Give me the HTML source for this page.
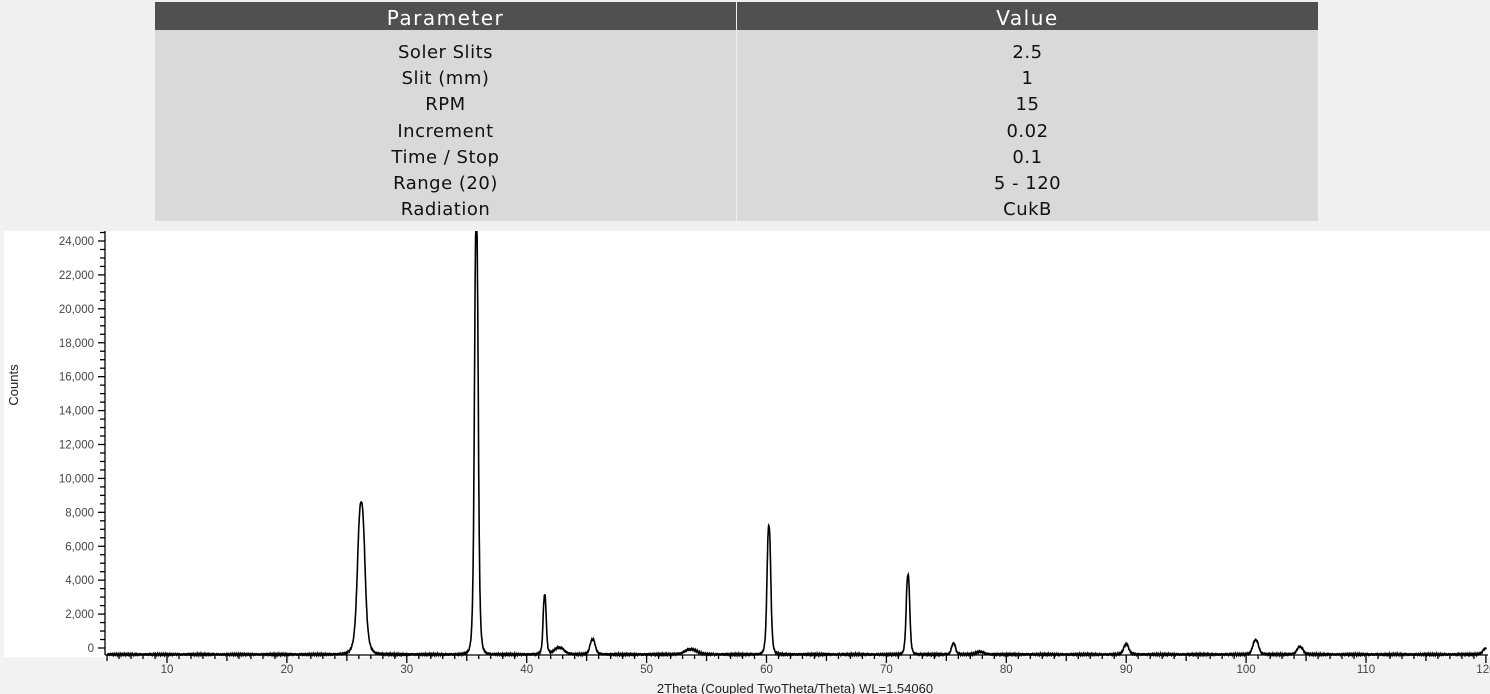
<!DOCTYPE html>
<html><head><meta charset="utf-8"><style>
html,body{margin:0;padding:0}
body{width:1490px;height:694px;position:relative;background:#f2f2f2;overflow:hidden;font-family:"Liberation Sans",sans-serif}
#top{position:absolute;left:0;top:0;width:1490px;height:231px;background:#eff1f0}
table{position:absolute;left:155px;top:2px;width:1163px;border-collapse:collapse;font-family:"DejaVu Sans",sans-serif;font-size:18px;color:#111}
th{background:#505052;color:#fff;font-weight:normal;height:28px;padding:0;font-size:20px;letter-spacing:1.5px}
th span{position:relative;top:2px}
td{background:#d8d9db;height:26.2px;padding:0;text-align:center;letter-spacing:0.5px;line-height:20px}
td span{position:relative;top:10px}
tr:last-child td{height:34px}
tr:last-child td span{top:6px}
th:first-child,td:first-child{width:581px;border-right:1px solid #eee}
#plot{position:absolute;left:0;top:231px}
</style></head><body>
<div id="top"></div>
<table>
<tr><th><span>Parameter</span></th><th><span>Value</span></th></tr>
<tr><td><span>Soler Slits</span></td><td><span>2.5</span></td></tr>
<tr><td><span>Slit (mm)</span></td><td><span>1</span></td></tr>
<tr><td><span>RPM</span></td><td><span>15</span></td></tr>
<tr><td><span>Increment</span></td><td><span>0.02</span></td></tr>
<tr><td><span>Time / Stop</span></td><td><span>0.1</span></td></tr>
<tr><td><span>Range (20)</span></td><td><span>5 - 120</span></td></tr>
<tr><td><span>Radiation</span></td><td><span>CukB</span></td></tr>
</table>
<svg id="plot" width="1490" height="463" viewBox="0 231 1490 463" xmlns="http://www.w3.org/2000/svg" font-family="Liberation Sans, sans-serif">
<rect x="4" y="231" width="1486" height="426" fill="#fff"/>
<g id="ticks" stroke="#000" stroke-width="1.3"></g>
<g id="lab" font-size="11.5" fill="#444"></g>
<path id="d" fill="none" stroke="#000" stroke-width="1.6"/>
<text x="18" y="385" font-size="13" transform="rotate(-90 18 385)" text-anchor="middle" fill="#222">Counts</text>
<text x="795" y="693" font-size="13" text-anchor="middle" fill="#222">2Theta (Coupled TwoTheta/Theta) WL=1.54060</text>
</svg>
<script>
var NS="http://www.w3.org/2000/svg";
function X(t){return 167+(t-10)*11.99;}
function Y(c){return 648-c*(407/24000);}
var tk=document.getElementById('ticks'),lab=document.getElementById('lab');
function ln(a,b,c,d){var l=document.createElementNS(NS,'line');l.setAttribute('x1',a);l.setAttribute('y1',b);l.setAttribute('x2',c);l.setAttribute('y2',d);tk.appendChild(l);}
function tx(x,y,s,anc){var t=document.createElementNS(NS,'text');t.setAttribute('x',x);t.setAttribute('y',y);t.setAttribute('text-anchor',anc);t.textContent=s;lab.appendChild(t);}
ln(105,231,105,655);ln(105,655,1488,655);
for(var c=0;c<=24500;c+=500){var y=Y(c);ln(c%2000==0?98:100,y,105,y);}
for(var c=0;c<=24000;c+=2000){tx(94,Y(c)+4,c.toLocaleString('en-US'),'end');}
for(var t=5;t<=120;t++){var x=X(t);ln(x,655,x,t%10==0?663:(t%5==0?661:659));}
for(var t=10;t<=120;t+=10){tx(X(t),673,String(t),'middle');}
var pk=[[26.2,9000,0.35],[35.8,26000,0.18],[41.5,3500,0.15],[42.7,400,0.5],[45.5,900,0.25],[53.7,300,0.6],[60.2,7600,0.18],[71.8,4700,0.17],[75.6,650,0.2],[77.8,150,0.4],[90.0,600,0.25],[100.8,850,0.28],[104.5,450,0.3],[120.0,350,0.3]];
var d="";
for(var t=5;t<=120.02;t+=0.02){var c=-380+Math.sin(t*37.1)*30+Math.sin(t*91.7)*25;
for(var i=0;i<pk.length;i++){var u=(t-pk[i][0])/pk[i][2];c+=pk[i][1]/(1+u*u*u*u*0.6+u*u*0.4);}
var y=Math.max(231,Y(c));d+=(d?"L":"M")+X(t).toFixed(1)+","+y.toFixed(1);}
document.getElementById('d').setAttribute('d',d);
</script>
</body></html>
